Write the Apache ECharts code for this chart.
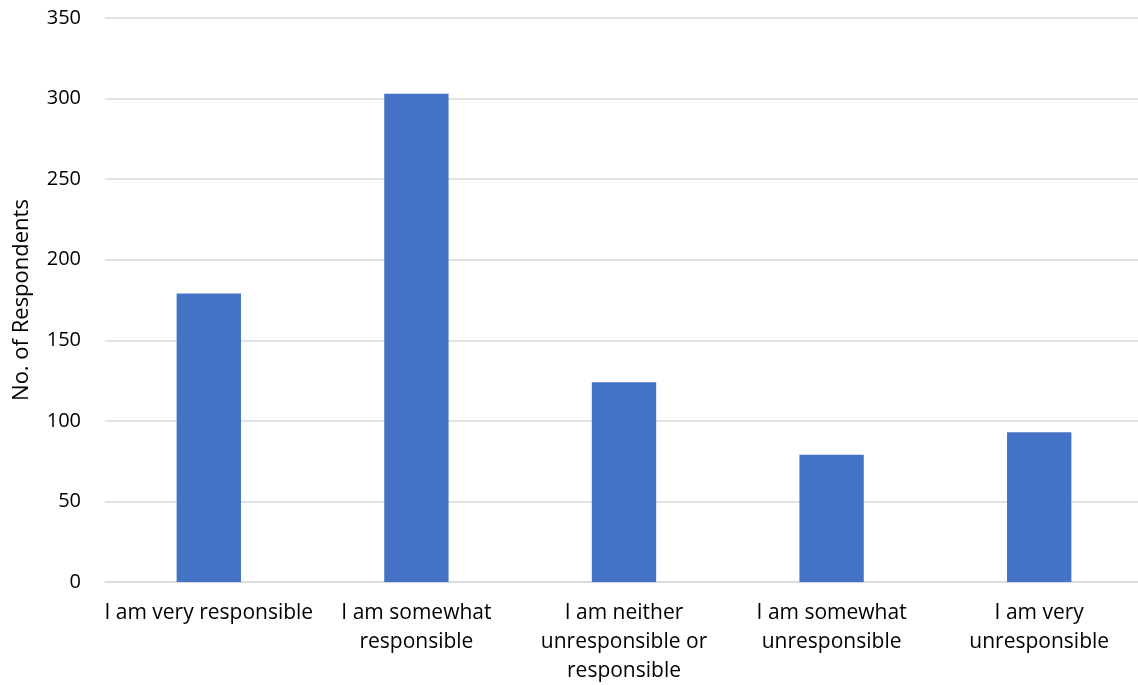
<!DOCTYPE html>
<html>
<head>
<meta charset="utf-8">
<script src="https://cdn.jsdelivr.net/npm/echarts@6/dist/echarts.min.js"></script>
<style>
  html, body { margin: 0; padding: 0; background: #fff; }
  #chart { width: 1138px; height: 685px; }
</style>
</head>
<body>
<div id="chart"></div>
<script>
// Self-rated responsibility survey
const categories = [
  'I am very responsible',
  'I am somewhat\nresponsible',
  'I am neither\nunresponsible or\nresponsible',
  'I am somewhat\nunresponsible',
  'I am very\nunresponsible'
];
const respondents = [179, 303, 124, 79, 93];
const yTicks = { min: 0, max: 350, interval: 50 };

const chart = echarts.init(document.getElementById('chart'));
const font = '"Open Sans", sans-serif';

chart.setOption({
  animation: false,
  grid: {
    left: 105, right: -5, top: 18, bottom: 103,
    containLabel: false,
    outerBoundsMode: 'none'
  },
  xAxis: {
    type: 'category',
    data: categories,
    axisTick: { show: false },
    axisLine: { lineStyle: { color: '#d9d9d9', width: 1.5 } },
    axisLabel: {
      interval: 0,
      color: '#000',
      fontFamily: font,
      fontSize: 21,
      lineHeight: 29,
      margin: 17
    }
  },
  yAxis: {
    type: 'value',
    min: yTicks.min,
    max: yTicks.max,
    interval: yTicks.interval,
    name: 'No. of Respondents',
    nameLocation: 'middle',
    nameGap: 72,
    nameMoveOverlap: false,
    nameTextStyle: { color: '#000', fontFamily: font, fontSize: 22 },
    axisLine: { show: false },
    axisTick: { show: false },
    axisLabel: { color: '#000', fontFamily: font, fontSize: 20, margin: 24 },
    splitLine: { lineStyle: { color: '#d9d9d9', width: 1.5 } }
  },
  series: [{
    type: 'bar',
    data: respondents,
    barWidth: '31%',
    itemStyle: { color: '#4472C4' }
  }]
});
</script>
</body>
</html>
